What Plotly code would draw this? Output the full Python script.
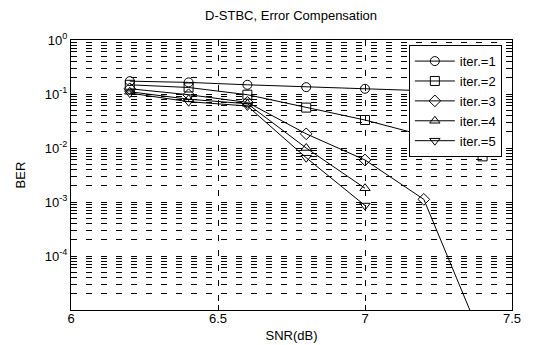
import plotly.graph_objects as go

snr = [6.2, 6.4, 6.6, 6.8, 7.0, 7.2, 7.4]
ber_iter1 = [0.173, 0.164, 0.148, 0.134, 0.125, 0.115, 0.105]
ber_iter2 = [0.148, 0.132, 0.097, 0.056, 0.033, 0.017, 0.0070]
ber_iter3 = [0.125, 0.097, 0.070, 0.0183, 0.0060, 0.00112, 0.0000027]
ber_iter4 = [0.110, 0.080, 0.066, 0.0100, 0.0018]
ber_iter5 = [0.104, 0.072, 0.060, 0.0066, 0.00086]

series = [
    ("iter.=1", ber_iter1, "circle-open"),
    ("iter.=2", ber_iter2, "square-open"),
    ("iter.=3", ber_iter3, "diamond-open"),
    ("iter.=4", ber_iter4, "triangle-up-open"),
    ("iter.=5", ber_iter5, "triangle-down-open"),
]

x_ticks = [6, 6.5, 7, 7.5]
x_ticktext = ["6", "6.5", "7", "7.5"]
y_ticks = [1, 0.1, 0.01, 0.001, 0.0001]
y_ticktext = ["10<sup>0</sup>", "10<sup>-1</sup>", "10<sup>-2</sup>",
              "10<sup>-3</sup>", "10<sup>-4</sup>"]
y_minor = [m * 10.0 ** e for e in range(-5, 0) for m in range(2, 10)]

FONT = "Liberation Sans, Arial, sans-serif"

fig = go.Figure()
for name, vals, sym in series:
    fig.add_trace(go.Scatter(
        x=snr[:len(vals)], y=vals, name=name, mode="lines+markers",
        line=dict(color="black", width=1),
        marker=dict(symbol=sym, size=9, color="black",
                    line=dict(color="black", width=1)),
    ))

fig.update_layout(
    width=554, height=345,
    margin=dict(l=62, r=50, t=32, b=39),
    paper_bgcolor="white", plot_bgcolor="white",
    font=dict(family=FONT, size=13, color="black"),
    title=dict(text="D-STBC, Error Compensation", x=0.511, xanchor="center",
               y=0.977, yanchor="middle", font=dict(size=13)),
    showlegend=True,
    legend=dict(x=0.977, xanchor="right", y=0.981, yanchor="top",
                bgcolor="white", bordercolor="black", borderwidth=1,
                font=dict(size=13), itemwidth=40, tracegroupgap=0),
)
fig.update_xaxes(
    range=[6, 7.5], tickvals=x_ticks, ticktext=x_ticktext,
    showline=True, linecolor="black", linewidth=1, mirror="ticks",
    ticks="inside", ticklen=5, tickcolor="black", ticklabelstandoff=-4,
    showgrid=True, gridcolor="black", gridwidth=1, griddash="6px,9px",
    zeroline=False,
    title=dict(text="SNR(dB)", standoff=6, font=dict(size=13)),
)
fig.update_yaxes(
    type="log", range=[-5, 0], tickvals=y_ticks, ticktext=y_ticktext,
    showline=True, linecolor="black", linewidth=1, mirror="ticks",
    ticks="inside", ticklen=5, tickcolor="black",
    showgrid=True, gridcolor="black", gridwidth=1, griddash="6px,9px",
    minor=dict(tickvals=y_minor, ticks="inside", ticklen=3, tickcolor="black",
               showgrid=True, gridcolor="black", gridwidth=1, griddash="6px,9px"),
    zeroline=False,
    title=dict(text="BER", standoff=16, font=dict(size=13)),
)

fig.write_html("out.html")
